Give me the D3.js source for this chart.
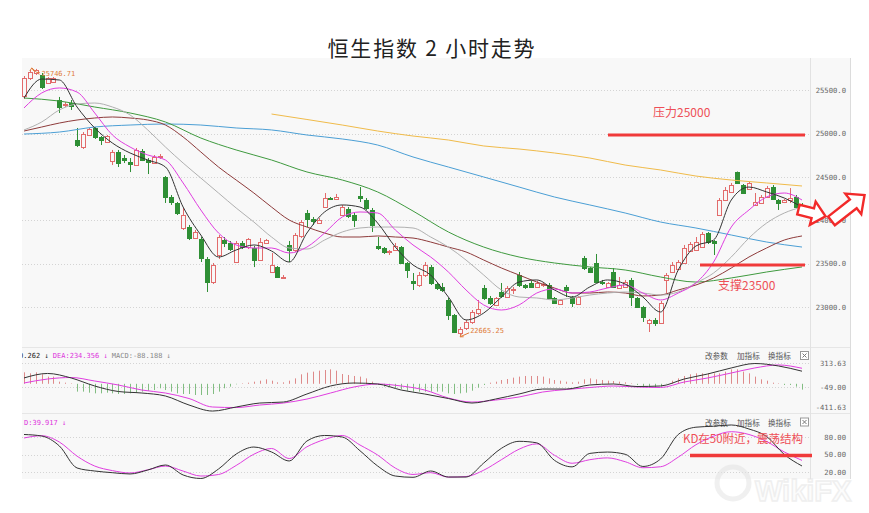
<!DOCTYPE html>
<html><head><meta charset="utf-8">
<script src="https://cdn.jsdelivr.net/npm/d3@7"></script>
<style>body{margin:0;background:#fff;} svg{display:block;}</style>
</head><body>
<svg id="c" width="869" height="513"></svg>
<script>
// ---------------- DATA ----------------
const title = "恒生指数 2 小时走势";
const open = [25434,25642,25700,25677,25584,25596,25388,25330,25353,24926,24845,24984,25065,24961,24903,24683,24787,24718,24672,24637,24799,24695,24660,24730,24499,24268,24199,23910,23921,23794,23783,23552,23286,23598,23771,23737,23517,23737,23690,23679,23540,23737,23402,23459,23333,23714,23656,23817,24083,24014,23968,24152,24256,24245,24060,24129,24060,24279,24233,24118,23702,23679,23633,23656,23690,23506,23298,23252,23367,23459,23263,23229,23079,22906,22698,22755,22825,22929,23217,23102,23021,23171,23113,23194,23367,23252,23275,23229,23252,23252,23102,23033,23229,23113,23033,23564,23448,23506,23286,23229,23402,23217,23229,23310,23102,22998,22813,22848,22813,23310,23402,23436,23506,23644,23656,23690,23852,23760,24060,24233,24326,24557,24406,24360,24175,24198,24268,24383,24233,24210,24233,24268,24152];
const high = [25665,25734,25746.71,25700,25653,25653,25423,25365,25388,25065,25018,25065,25076,24972,24984,24811,24811,24753,24718,24834,24822,24718,24753,24764,24510,24291,24210,24141,23945,23887,23806,23575,23506,23829,23806,23760,23760,23760,23794,23702,23794,23783,23621,23471,23367,23760,23852,24002,24118,24037,24025,24314,24268,24303,24176,24152,24083,24383,24256,24141,23806,23690,23656,23737,23702,23517,23390,23402,23517,23483,23275,23275,23102,22917,22767,22848,22963,23079,23252,23125,23113,23275,23240,23229,23402,23263,23298,23298,23286,23275,23113,23090,23252,23125,23125,23587,23459,23610,23310,23286,23448,23344,23310,23333,23113,23010,22860,22871,23067,23390,23517,23540,23714,23748,23806,23864,23864,23771,24256,24383,24430,24562,24418,24441,24314,24291,24395,24406,24245,24245,24371,24291,24198];
const low = [25400,25619,25677,25515,25573,25584,25238,25307,25273,24845,24822,24972,24938,24868,24891,24637,24614,24660,24556,24626,24683,24533,24649,24707,24199,24176,24060,23887,23771,23783,23517,23171,23263,23552,23690,23644,23506,23667,23667,23459,23529,23725,23390,23333,23321,23517,23633,23794,23921,23945,23956,24141,24233,24233,24049,24025,23921,24210,24118,23864,23656,23610,23598,23644,23494,23333,23194,23229,23344,23252,23194,23171,22848,22698,22665.25,22732,22802,22906,23079,23021,23010,23102,23102,23148,23229,23206,23217,23217,23229,23090,23033,23021,23113,22998,23021,23425,23390,23275,23252,23217,23217,23206,23217,23009,22986,22825,22709,22779,22802,23160,23390,23425,23494,23633,23644,23679,23725,23598,24049,24221,24314,24418,24303,24349,24164,24187,24256,24233,24118,24198,24198,24141,24083];
const close = [25642,25711,25734,25538,25642,25642,25307,25342,25318,24868,24995,25053,24961,24926,24972,24787,24660,24695,24649,24811,24695,24672,24730,24741,24268,24210,24083,24060,23794,23864,23563,23286,23483,23806,23737,23667,23737,23690,23783,23540,23748,23771,23483,23344,23344,23656,23829,23979,24014,23991,24002,24256,24245,24268,24152,24049,24002,24256,24141,23945,23679,23633,23644,23702,23506,23425,23275,23367,23483,23275,23217,23194,22906,22709,22744,22825,22940,22975,23102,23044,23102,23125,23217,23206,23252,23229,23229,23275,23263,23102,23044,23079,23194,23044,23113,23448,23402,23286,23275,23275,23229,23252,23286,23113,22998,22882,22848,22813,23044,23367,23483,23517,23679,23725,23748,23841,23748,23737,24233,24349,24406,24430,24314,24430,24210,24268,24371,24245,24198,24233,24256,24152,24118];

// moving averages (every 3rd bar)
const ma5  = [25411,25630,25619,25307,25065,24891,24776,24695,24614,24152,23829,23575,23656,23714,23644,23517,23852,24095,24176,24152,23967,23690,23483,23367,23113,22848,22928,23113,23286,23310,23194,23113,23229,23310,23263,23113,22940,23425,23702,23771,24233,24383,24326,24256,24152];
const ma10 = [25296,25469,25527,25480,25238,24984,24845,24753,24695,24430,24118,23852,23714,23679,23679,23621,23690,23852,24037,24095,24083,23887,23714,23575,23402,23194,23021,22963,23021,23159,23206,23159,23171,23217,23252,23159,23079,23159,23275,23517,23921,24118,24268,24314,24233];
const ma20 = [25042,25134,25273,25342,25353,25307,25215,25042,24845,24660,24487,24314,24141,23979,23806,23679,23667,23771,23864,23910,23921,23921,23910,23806,23690,23540,23367,23194,23113,23102,23079,23102,23136,23159,23171,23159,23136,23171,23275,23390,23575,23794,23967,24083,24152];
const ma30 = [25030,25076,25122,25157,25180,25192,25180,25157,25099,24961,24788,24614,24464,24314,24152,24002,23921,23852,23806,23806,23818,23806,23794,23748,23690,23633,23540,23448,23367,23286,23217,23159,23159,23171,23159,23125,23136,23194,23252,23333,23448,23575,23679,23771,23818];
// every 6th bar
const ma60  = [25411,25376,25307,25238,25134,24949,24811,24695,24557,24464,24326,24106,23864,23690,23575,23506,23460,23425,23344,23286,23333,23402,23460];
const ma120 = [24995,25018,25076,25099,25111,25099,25065,25042,24984,24938,24868,24730,24614,24499,24383,24268,24176,24083,23979,23910,23829,23748,23690];
const ma250 = [null,null,null,null,null,null,null,25226,25163,25099,25030,24972,24926,24857,24822,24776,24718,24637,24580,24510,24464,24430,24395];

// MACD
const macdHist = [173,158,173,143,108,108,32,17,7,-118,-118,-134,-144,-144,-134,-144,-154,-154,-144,-134,-118,-104,-94,-68,-94,-118,-144,-154,-154,-169,-169,-169,-154,-118,-68,-43,-8,7,17,32,47,67,47,22,22,47,82,143,168,183,198,208,218,198,148,133,118,108,82,32,-18,-43,-53,-68,-83,-104,-118,-118,-118,-118,-118,-118,-144,-154,-144,-134,-104,-58,-18,17,32,57,72,93,108,118,118,118,108,82,57,47,32,22,32,67,82,67,57,47,42,32,22,7,-18,-33,-43,-53,-43,-8,47,82,118,143,158,158,158,158,158,183,218,218,183,158,108,67,47,17,7,-18,-18,-43,-88];
// every 4th bar
const dif = [88,156,88,-33,-116,-139,-184,-320,-411,-350,-290,-275,-154,-33,12,-3,-94,-154,-222,-290,-230,-154,-79,-79,-18,-3,-41,-33,72,148,239,306,269,190];
const dea = [12,72,95,42,-18,-94,-139,-222,-350,-358,-320,-290,-230,-139,-48,-3,-33,-94,-214,-275,-245,-199,-124,-86,-56,-33,-48,-56,27,88,163,239,284,234];

// KD, every 3rd bar
const kLine = [84.3,81.7,64.6,26.9,21.7,18.8,16.6,23.4,32,14.9,8.9,25.1,50.8,62.8,54.3,38.9,73.1,82.6,80,56.5,30.3,13.1,10.9,21.7,11.4,11.4,35.4,60.6,72.6,70,40,28.8,51.9,54.2,50.4,29.5,42.3,84.3,96.8,98.5,100.6,93.7,80.9,50,30.3];
const dLine = [78.3,82.2,71.4,47.2,30.2,22.4,18.3,23.7,30.2,21.6,13.1,15.7,31.2,50.5,60.3,43.1,63.2,75.7,82.6,66.3,49.1,26.7,15.8,18.9,11.2,12.2,23.1,41.1,59.1,68.2,48.7,35,41.1,44.2,37.6,27.3,29,45.4,66.7,81.4,89.1,84.3,72.3,54.3,39.9];

const priceTicks = [25500,25000,24500,24000,23500,23000];
const macdTicks = [313.63,-49.00,-411.63];
const kdTicks = [80,50,20];
const legendMACD = {dif:"190.262", dea:"234.356", macd:"-88.188"};
const legendKD = "39.917";
const toolText = ["改参数","加指标","换指标"];
const notes = {press:"压力25000", pressLevel:25000, support:"支撑23500", supportLevel:23500, kd:"KD在50附近，震荡结构", kdLevel:50};

// ---------------- LAYOUT ----------------
const svg = d3.select("#c");
const N = open.length;
const L = 22, R = 810, AX = 850;
const P = {top:58, bot:345}, M = {top:347, bot:413}, K = {top:413, bot:479};
const bg = "#f8f8f8";
const up = "#e26b6b", dn = "#2f8f35";

const xi = d3.scaleLinear().domain([0, N-1]).range([24, 802]);
const yP = d3.scaleLinear().domain([23000,25500]).range([306.8,90.3]);
const yM = d3.scaleLinear().domain([-411.63,313.63]).range([411.1,363]);
const yK = d3.scaleLinear().domain([20,80]).range([472,437]);

// backgrounds
[P,M,K].forEach(p=>{
  svg.append("rect").attr("x",L).attr("y",p.top).attr("width",AX-L).attr("height",p.bot-p.top).attr("fill",bg);
});
svg.append("rect").attr("x",L).attr("y",P.bot).attr("width",AX-L).attr("height",2).attr("fill",bg);
// separators
[M.top, M.bot].forEach(y=>svg.append("line").attr("x1",L).attr("x2",AX).attr("y1",y+0.5).attr("y2",y+0.5).attr("stroke","#e6e6e6"));
svg.append("line").attr("x1",R+0.5).attr("x2",R+0.5).attr("y1",P.top).attr("y2",K.bot).attr("stroke","#e2e2e2");
svg.append("line").attr("x1",AX+0.5).attr("x2",AX+0.5).attr("y1",P.top).attr("y2",K.bot).attr("stroke","#dcdcdc");

// clip paths
const defs = svg.append("defs");
function clip(id, p){ defs.append("clipPath").attr("id",id).append("rect").attr("x",L).attr("y",p.top).attr("width",R-L).attr("height",p.bot-p.top); }
clip("cp",P); clip("cm",M); clip("ck",K);

// title
svg.append("text").attr("x",432).attr("y",56).attr("text-anchor","middle")
  .attr("font-family","'Noto Sans CJK SC', sans-serif").attr("font-size",21).attr("letter-spacing",1.8)
  .attr("fill","#222").text(title);

// gridlines
function grid(ticks, sc){
  svg.append("g").selectAll("line").data(ticks).join("line")
    .attr("x1",L).attr("x2",R).attr("y1",d=>Math.round(sc(d))+0.5).attr("y2",d=>Math.round(sc(d))+0.5)
    .attr("stroke","#d4d4d4").attr("stroke-dasharray","1,2");
}
grid(priceTicks,yP); grid(macdTicks.slice(0,2),yM); grid(kdTicks,yK);

// axes
const monoFont = "'DejaVu Sans Mono', monospace";
function axis(sc, ticks, fmt, shift){
  const g = svg.append("g").attr("transform",`translate(846,0)`)
    .call(d3.axisRight(sc).tickValues(ticks).tickSize(0).tickFormat(fmt));
  g.select(".domain").remove();
  g.selectAll("text").attr("x",0).attr("text-anchor","end").attr("font-family",monoFont)
    .attr("font-size",7.2).attr("fill","#666").attr("dy", (d,i)=> (shift && shift[i]) ? shift[i] : "0.32em");
}
axis(yP, priceTicks, d=>d.toFixed(1));
axis(yM, macdTicks, d=>d.toFixed(2), [null,null,"-0.25em"]);
axis(yK, kdTicks, d=>d.toFixed(2));

// ---------------- CANDLES ----------------
const gC = svg.append("g").attr("clip-path","url(#cp)");
const cg = gC.selectAll("g").data(d3.range(N)).join("g");
cg.append("line")
  .attr("x1",i=>Math.round(xi(i))+0.5).attr("x2",i=>Math.round(xi(i))+0.5)
  .attr("y1",i=>yP(high[i])).attr("y2",i=>yP(low[i]))
  .attr("stroke",i=>close[i]>=open[i]?up:dn).attr("stroke-width",1);
cg.append("rect")
  .attr("x",i=>Math.round(xi(i))-1.5).attr("width",4)
  .attr("y",i=>Math.round(yP(Math.max(open[i],close[i])))+0.5)
  .attr("height",i=>Math.max(1,Math.round(yP(Math.min(open[i],close[i])))-Math.round(yP(Math.max(open[i],close[i])))))
  .attr("fill",i=>close[i]>=open[i]?bg:dn)
  .attr("stroke",i=>close[i]>=open[i]?up:dn).attr("stroke-width",1);

// MA lines
function maLine(arr, step, color, w){
  const ln = d3.line().defined(d=>d!=null).x((d,k)=>xi(k*step)).y(d=>yP(d)).curve(d3.curveMonotoneX);
  gC.append("path").attr("d",ln(arr)).attr("fill","none").attr("stroke",color).attr("stroke-width",w||1);
}
maLine(ma250,6,"#f0bb4a");
maLine(ma120,6,"#4b9fd5");
maLine(ma60,6,"#3f9a3f");
maLine(ma30,3,"#8e3b3b");
maLine(ma20,3,"#b0b0b0");
maLine(ma10,3,"#e03ee0");
maLine(ma5,3,"#333333");

// max / min markers
const iMax = d3.maxIndex(high), iMin = d3.minIndex(low);
const mc = "#e07b39";
const mk = svg.append("g").attr("font-family",monoFont).attr("font-size",7).attr("fill",mc);
const hx = xi(iMax), hy = yP(high[iMax]);
mk.append("path").attr("d",`M${hx-6},${hy+2} l2,-3 l2,3 M${hx-4},${hy-1} L${hx+1},${hy+3.5} L${hx+4},${hy+3.5}`)
  .attr("stroke",mc).attr("fill","none");
mk.append("text").attr("x",hx+1.5).attr("y",hy+7).text("-"+high[iMax].toFixed(2));
const lx = xi(iMin), ly = yP(low[iMin]);
mk.append("path").attr("d",`M${lx},${ly+1} L${lx+9},${ly-3} M${lx},${ly+1} l3.5,0 M${lx},${ly+1} l1.2,-3`)
  .attr("stroke",mc).attr("fill","none");
mk.append("text").attr("x",lx+10).attr("y",ly-2.5).text(low[iMin].toFixed(2));

// ---------------- MACD ----------------
const gM = svg.append("g").attr("clip-path","url(#cm)");
gM.selectAll("line").data(macdHist).join("line")
  .attr("x1",(d,i)=>Math.round(xi(i))+0.5).attr("x2",(d,i)=>Math.round(xi(i))+0.5)
  .attr("y1",yM(0)).attr("y2",d=>yM(d))
  .attr("stroke",d=>d>=0?"#de8a8a":"#82bd82").attr("stroke-width",1);
const lnM = d3.line().x((d,k)=>xi(k*4)).y(d=>yM(d)).curve(d3.curveMonotoneX);
gM.append("path").attr("d",lnM(dea)).attr("fill","none").attr("stroke","#e03ee0");
gM.append("path").attr("d",lnM(dif)).attr("fill","none").attr("stroke","#333");

// MACD legend (clipped at left edge, as in the source)
defs.append("clipPath").attr("id","cl").append("rect").attr("x",L).attr("y",M.top).attr("width",300).attr("height",20);
const lt = svg.append("text").attr("clip-path","url(#cl)").attr("x",-6.2).attr("y",358)
  .attr("font-family",monoFont).attr("font-size",7).attr("xml:space","preserve");
lt.append("tspan").attr("fill","#222").text("DIF:"+legendMACD.dif+" ↓ ");
lt.append("tspan").attr("fill","#dd33dd").text("DEA:"+legendMACD.dea+" ↓ ");
lt.append("tspan").attr("fill","#888").text("MACD:"+legendMACD.macd+" ↓");

// tool links
function tools(y){
  const g = svg.append("g").attr("font-family","'Noto Sans CJK SC', sans-serif").attr("font-size",7.6).attr("fill","#555");
  [705,737,768].forEach((x,k)=>g.append("text").attr("x",x).attr("y",y).text(toolText[k]));
  g.append("rect").attr("x",800.5).attr("y",y-7.5).attr("width",8).attr("height",8).attr("fill","#fff").attr("stroke","#999");
  g.append("path").attr("d",`M802.5,${y-5.5} l4,4 M806.5,${y-5.5} l-4,4`).attr("stroke","#777");
}
tools(359); tools(425.5);

// ---------------- KD ----------------
const gK = svg.append("g").attr("clip-path","url(#ck)");
const lnK = d3.line().x((d,k)=>xi(k*3)).y(d=>yK(d)).curve(d3.curveMonotoneX);
gK.append("path").attr("d",lnK(dLine)).attr("fill","none").attr("stroke","#e03ee0");
gK.append("path").attr("d",lnK(kLine)).attr("fill","none").attr("stroke","#333");
svg.append("text").attr("x",24).attr("y",425).attr("font-family",monoFont).attr("font-size",7)
  .attr("fill","#dd33dd").attr("xml:space","preserve").text("D:"+legendKD+" ↓");

// ---------------- ANNOTATIONS ----------------
const red = "#f03a3a", redT = "#ee4f57";
const an = svg.append("g").attr("font-family","'Noto Sans CJK SC', sans-serif").attr("fill",redT);
an.append("line").attr("x1",608).attr("x2",805).attr("y1",yP(notes.pressLevel)+1.5).attr("y2",yP(notes.pressLevel)+1.5).attr("stroke",red).attr("stroke-width",3);
an.append("text").attr("x",653).attr("y",117).attr("font-size",12).text(notes.press);
an.append("line").attr("x1",700).attr("x2",805).attr("y1",yP(notes.supportLevel)+1.5).attr("y2",yP(notes.supportLevel)+1.5).attr("stroke",red).attr("stroke-width",3);
an.append("text").attr("x",718).attr("y",290).attr("font-size",12).text(notes.support);
an.append("line").attr("x1",690).attr("x2",812).attr("y1",yK(notes.kdLevel)+1).attr("y2",yK(notes.kdLevel)+1).attr("stroke",red).attr("stroke-width",3.5);
an.append("text").attr("x",683).attr("y",443).attr("font-size",11.5).text(notes.kd);

// block arrows
function arrow(cx, cy, ang, len, head, shaft){
  const hl = head*0.55, t = -len/2, h = len/2 - hl;
  const pts = [[t,-shaft/2],[h,-shaft/2],[h,-head/2],[len/2,0],[h,head/2],[h,shaft/2],[t,shaft/2]];
  svg.append("polygon").attr("points",pts.map(p=>p.join(",")).join(" "))
    .attr("transform",`translate(${cx},${cy}) rotate(${ang})`)
    .attr("fill","#fff").attr("stroke","#f22a2a").attr("stroke-width",2.4).attr("stroke-linejoin","miter");
}
arrow(812,213,14,28,24,10);
arrow(848,208,-38,42,26,11);

// watermark
const wm = svg.append("g").attr("opacity",0.55);
wm.append("circle").attr("cx",733).attr("cy",483).attr("r",16).attr("fill","none").attr("stroke","#e4e4e4").attr("stroke-width",5);
wm.append("text").attr("x",755).attr("y",501).attr("font-family","'Liberation Sans', sans-serif").attr("font-weight","bold")
  .attr("font-size",29).attr("fill","#fbfbfb").attr("stroke","#e2e2e2").attr("stroke-width",1.4).text("WikiFX");
</script>
</body></html>
